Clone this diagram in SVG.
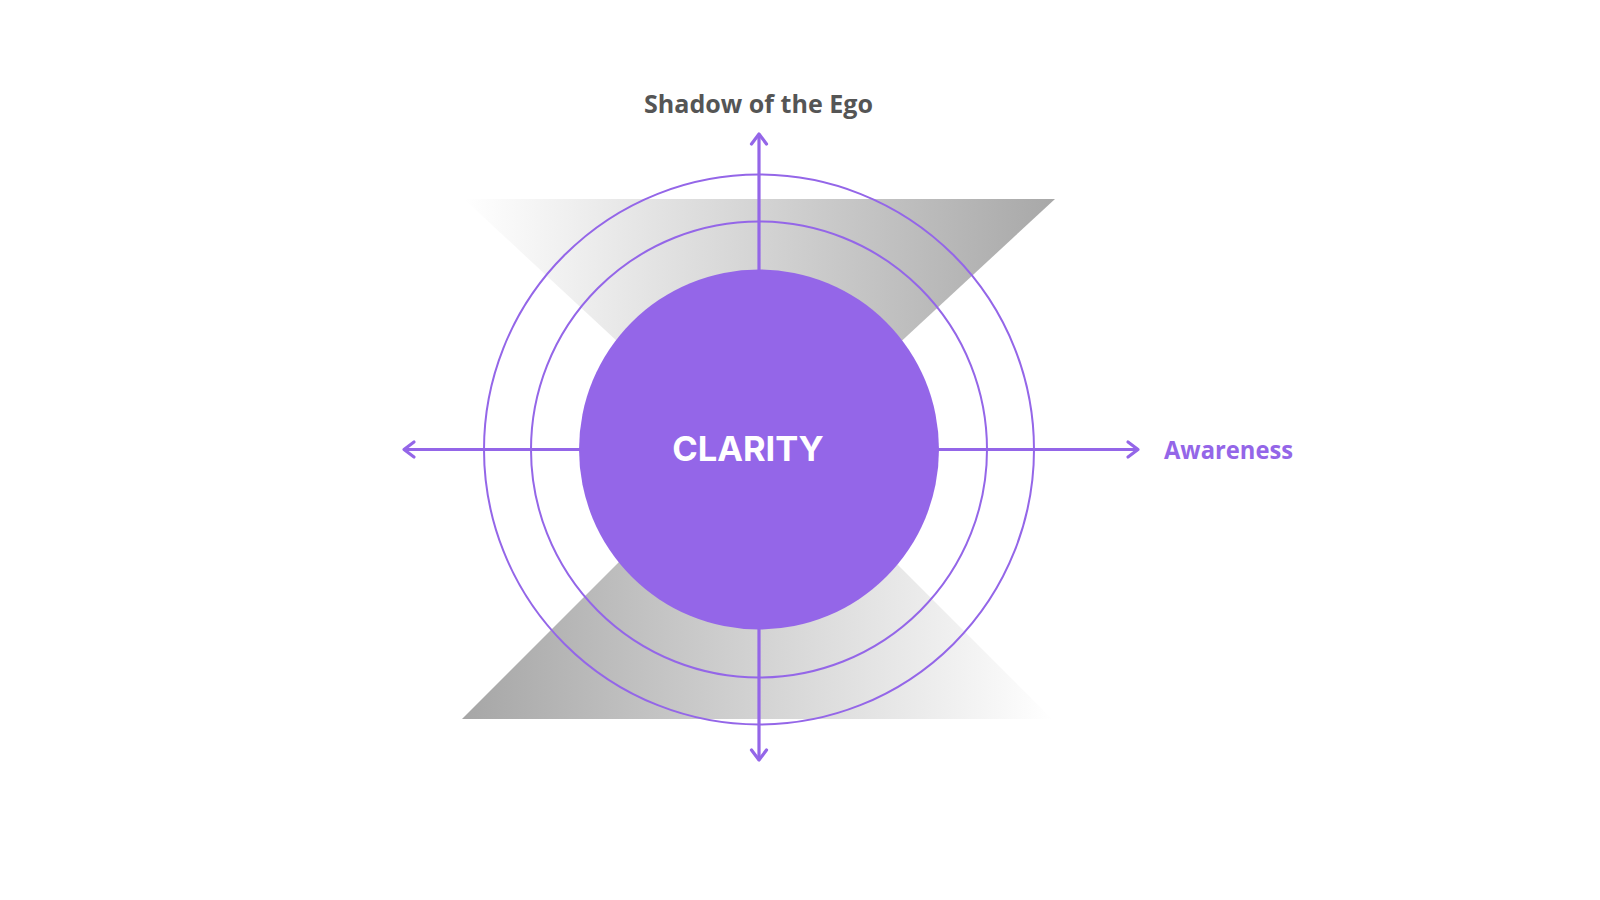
<svg xmlns="http://www.w3.org/2000/svg" width="1600" height="900" viewBox="0 0 1600 900">
  <defs>
    <linearGradient id="gTop" gradientUnits="userSpaceOnUse" x1="464" y1="0" x2="1055" y2="0">
      <stop offset="0" stop-color="#ffffff"/>
      <stop offset="1" stop-color="#a8a8a8"/>
    </linearGradient>
    <linearGradient id="gBot" gradientUnits="userSpaceOnUse" x1="462" y1="0" x2="1052" y2="0">
      <stop offset="0" stop-color="#a6a6a6"/>
      <stop offset="1" stop-color="#ffffff"/>
    </linearGradient>
    <marker id="arr" markerUnits="userSpaceOnUse" markerWidth="30" markerHeight="30" refX="0" refY="0" viewBox="-15 -15 30 30" orient="auto" overflow="visible">
      <path d="M-10,-7.5 L0,0 L-10,7.5" fill="none" stroke="#9466e8" stroke-width="3.2" stroke-linecap="round" stroke-linejoin="round"/>
    </marker>
    <style>
      .ring { fill: none; stroke: #9466e8; stroke-width: 2; }
      .axis { stroke: #9466e8; stroke-width: 3.2; fill: none; marker-end: url(#arr); }
      .lbl { font-family: "Open Sans", "Noto Sans", "DejaVu Sans", sans-serif; font-weight: 700; font-size: 25px; }
    </style>
  </defs>
  <rect width="1600" height="900" fill="#ffffff"/>

  <g id="bands">
    <polygon points="464,199 1055,199 759,473" fill="url(#gTop)"/>
    <polygon points="462,719 1052,719 757,424" fill="url(#gBot)"/>
  </g>

  <g id="rings">
    <circle class="ring" cx="759" cy="449.5" r="275"/>
    <circle class="ring" cx="759" cy="449.5" r="228"/>
  </g>

  <g id="connectors">
    <line class="axis" x1="759" y1="275" x2="759" y2="134"/>
    <line class="axis" x1="759" y1="625" x2="759" y2="760"/>
    <line class="axis" x1="585" y1="449.5" x2="404" y2="449.5"/>
    <line class="axis" x1="933" y1="449.5" x2="1138" y2="449.5"/>
  </g>

  <g id="clarity">
    <circle cx="759" cy="449.5" r="180" fill="#9466e8"/>
    <text x="748" y="461" text-anchor="middle" font-family="Inter, Roboto, 'Liberation Sans', sans-serif" font-weight="700" font-size="34.5" fill="#ffffff">CLARITY</text>
  </g>

  <g id="shadow-label">
    <text class="lbl" x="644" y="113" textLength="229" lengthAdjust="spacingAndGlyphs" fill="#555555">Shadow of the Ego</text>
  </g>

  <g id="awareness-label">
    <text class="lbl" x="1164" y="459" textLength="129" lengthAdjust="spacingAndGlyphs" fill="#9466e8">Awareness</text>
  </g>
</svg>
